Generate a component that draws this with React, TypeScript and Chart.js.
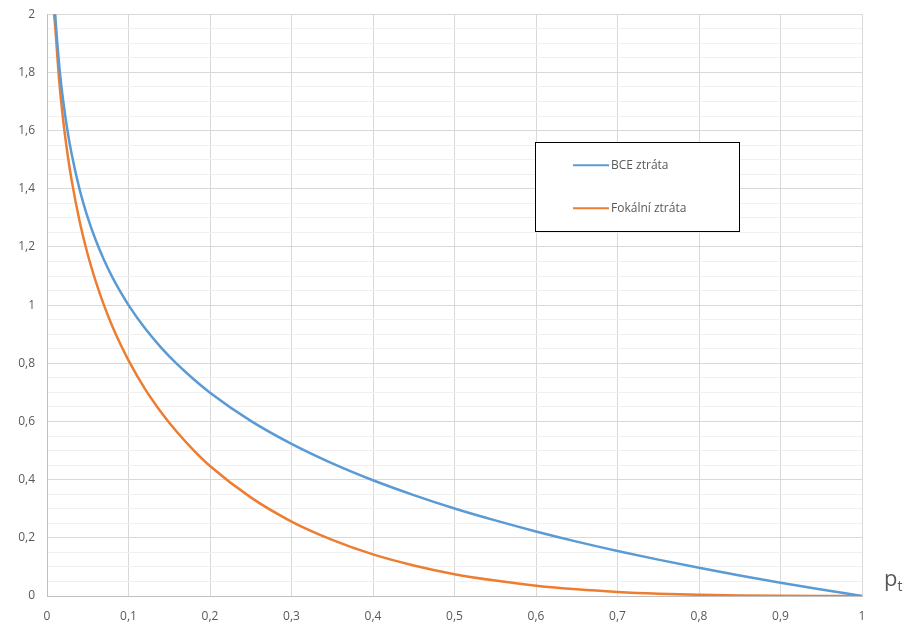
import React, { useEffect, useRef } from "react";
import { Chart, registerables } from "chart.js";

Chart.register(...registerables);

const pValues = [0.005, 0.008, 0.01, 0.015, 0.02, 0.025, 0.03, 0.04, 0.05, 0.06, 0.07, 0.08, 0.09, 0.1, 0.12, 0.14, 0.16, 0.18, 0.2, 0.25, 0.3, 0.35, 0.4, 0.45, 0.5, 0.55, 0.6, 0.65, 0.7, 0.75, 0.8, 0.85, 0.9, 0.95, 1.0];
const bceLoss = [2.301, 2.097, 2.0, 1.824, 1.699, 1.602, 1.523, 1.398, 1.301, 1.222, 1.155, 1.097, 1.046, 1.0, 0.921, 0.854, 0.796, 0.745, 0.699, 0.602, 0.523, 0.456, 0.398, 0.347, 0.301, 0.26, 0.222, 0.187, 0.155, 0.125, 0.097, 0.0706, 0.0458, 0.0223, 0];
const focalLoss = [2.278, 2.03, 1.96, 1.77, 1.632, 1.523, 1.433, 1.288, 1.174, 1.08, 0.999, 0.928, 0.866, 0.81, 0.713, 0.632, 0.562, 0.501, 0.447, 0.339, 0.256, 0.193, 0.143, 0.105, 0.075, 0.053, 0.0355, 0.0229, 0.0139, 0.0078, 0.0039, 0.0016, 0.00046, 0.00006, 0];
const seriesLabels = ["BCE ztráta", "Fokální ztráta"];
const seriesColors = ["#5B9BD5", "#ED7D31"];
const xAxisTitle = "p";
const xAxisTitleSub = "t";

const fmt = (v: number) => {
  const r = Math.round(v * 100) / 100;
  return String(r).replace(".", ",");
};
const isMajorY = (v: number) => Math.abs(v / 0.2 - Math.round(v / 0.2)) < 1e-6;

const legendPlugin = {
  id: "boxLegend",
  afterDatasetsDraw(chart: any) {
    const ctx = chart.ctx;
    const xs = chart.scales.x;
    const ys = chart.scales.y;
    const x0 = xs.getPixelForValue(0.5988);
    const x1 = xs.getPixelForValue(0.849);
    const y0 = ys.getPixelForValue(1.56);
    const y1 = ys.getPixelForValue(1.254);
    ctx.save();
    ctx.fillStyle = "#ffffff";
    ctx.fillRect(x0, y0, x1 - x0, y1 - y0);
    ctx.strokeStyle = "#000000";
    ctx.lineWidth = 1;
    ctx.strokeRect(Math.round(x0) + 0.5, Math.round(y0) + 0.5, Math.round(x1 - x0), Math.round(y1 - y0));
    ctx.font = "12px 'Open Sans'";
    ctx.textBaseline = "middle";
    chart.data.datasets.forEach((ds: any, i: number) => {
      const y = y0 + 23 + i * 43;
      ctx.strokeStyle = ds.borderColor;
      ctx.lineWidth = 2;
      ctx.beginPath();
      ctx.moveTo(x0 + 38, y);
      ctx.lineTo(x0 + 74, y);
      ctx.stroke();
      ctx.fillStyle = "#595959";
      ctx.fillText(ds.label, x0 + 76, y);
    });
    ctx.restore();
  },
};

const titlePlugin = {
  id: "ptTitle",
  afterDraw(chart: any) {
    const ctx = chart.ctx;
    const x = chart.chartArea.right + 22;
    const y = chart.chartArea.bottom - 10;
    ctx.save();
    ctx.fillStyle = "#595959";
    ctx.textBaseline = "alphabetic";
    ctx.font = "22px 'Open Sans'";
    ctx.fillText(xAxisTitle, x, y);
    const w = ctx.measureText(xAxisTitle).width;
    ctx.font = "14px 'Open Sans'";
    ctx.fillText(xAxisTitleSub, x + w, y + 5);
    ctx.restore();
  },
};

export default function App() {
  const ref = useRef<HTMLCanvasElement | null>(null);
  useEffect(() => {
    if (!ref.current) return;
    const chart = new Chart(ref.current, {
      type: "line",
      data: {
        datasets: [
          {
            label: seriesLabels[0],
            data: pValues.map((p, i) => ({ x: p, y: bceLoss[i] })),
            borderColor: seriesColors[0],
            backgroundColor: seriesColors[0],
            borderWidth: 2.5,
            pointRadius: 0,
            cubicInterpolationMode: "monotone",
          },
          {
            label: seriesLabels[1],
            data: pValues.map((p, i) => ({ x: p, y: focalLoss[i] })),
            borderColor: seriesColors[1],
            backgroundColor: seriesColors[1],
            borderWidth: 2.5,
            pointRadius: 0,
            cubicInterpolationMode: "monotone",
          },
        ],
      },
      options: {
        animation: false,
        responsive: false,
        maintainAspectRatio: false,
        layout: { autoPadding: false, padding: { top: 14, right: 44, left: 0, bottom: 0 } },
        plugins: { legend: { display: false }, tooltip: { enabled: false } },
        scales: {
          x: {
            type: "linear",
            min: 0,
            max: 1,
            ticks: {
              stepSize: 0.1,
              callback: (v: any) => fmt(Number(v)),
              color: "#595959",
              font: { family: "'Open Sans'", size: 12 },
              padding: 13,
              maxRotation: 0,
            },
            grid: { color: "#d9d9d9", drawTicks: false, lineWidth: 1 },
            border: { color: "#bfbfbf" },
            afterFit: (s: any) => { s.height = 32; },
          },
          y: {
            type: "linear",
            min: 0,
            max: 2,
            ticks: {
              stepSize: 0.05,
              autoSkip: false,
              callback: (v: any) => (isMajorY(Number(v)) ? fmt(Number(v)) : ""),
              color: "#595959",
              font: { family: "'Open Sans'", size: 12 },
              padding: 12,
            },
            grid: {
              color: (c: any) => (isMajorY(c.tick.value) ? "#d9d9d9" : "#f0f0f0"),
              drawTicks: false,
              lineWidth: 1,
            },
            border: { color: "#bfbfbf" },
            afterFit: (s: any) => { s.width = 47; },
          },
        },
      } as any,
      plugins: [legendPlugin, titlePlugin],
    });
    return () => chart.destroy();
  }, []);
  return (
    <div style={{ position: "fixed", left: 0, top: 0, width: 906, height: 628, overflow: "hidden", background: "#fff" }}>
      <canvas
        ref={ref}
        width={906}
        height={633}
        style={{ position: "absolute", left: 0, top: -5, width: 906, height: 633 }}
      />
    </div>
  );
}
